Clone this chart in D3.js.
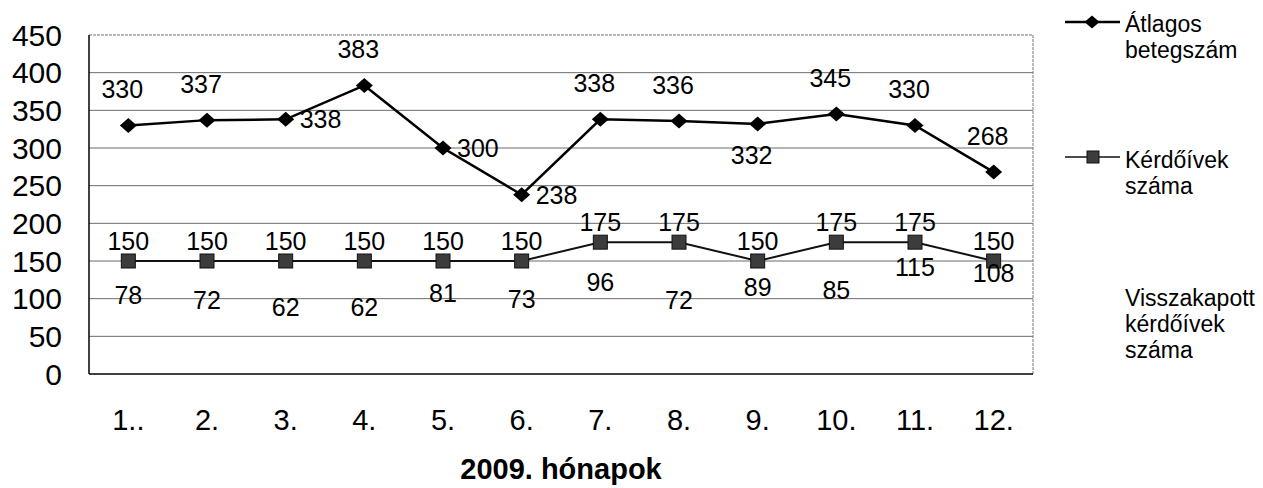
<!DOCTYPE html>
<html lang="hu">
<head>
<meta charset="UTF-8">
<title>2009. hónapok</title>
<script src="https://d3js.org/d3.v7.min.js"></script>
<style>
  html, body { margin: 0; padding: 0; background: #fff; }
  svg { display: block; font-family: "Liberation Sans", Arial, sans-serif; }
  .grid line { stroke: #6b6b6b; stroke-width: 1; }
  .ytick { font-size: 30px; fill: #000; }
  .xtick { font-size: 29px; fill: #000; }
  .lbl { font-size: 25px; fill: #000; }
  .leg { font-size: 23px; fill: #000; }
</style>
</head>
<body>
<svg id="chart" width="1263" height="488"></svg>
<script>
// data
const months = ["1..", "2.", "3.", "4.", "5.", "6.", "7.", "8.", "9.", "10.", "11.", "12."];
const atlagosBetegszam = [330, 337, 338, 383, 300, 238, 338, 336, 332, 345, 330, 268];
const kerdoivekSzama = [150, 150, 150, 150, 150, 150, 175, 175, 150, 175, 175, 150];
const visszakapott = [78, 72, 62, 62, 81, 73, 96, 72, 89, 85, 115, 108];
const yTicks = [0, 50, 100, 150, 200, 250, 300, 350, 400, 450];

// where excel put the labels of the first series
const betegLabelPlace = ["above", "above", "right", "above", "right", "right",
                         "above", "above", "below", "above", "above", "above"];

const svg = d3.select("#chart");
const plot = { left: 89, right: 1033, top: 35, bottom: 374 };

const x = d3.scalePoint()
    .domain(months)
    .range([plot.left, plot.right])
    .padding(0.5);

const y = d3.scaleLinear()
    .domain([0, 450])
    .range([plot.bottom, plot.top]);

// gridlines
svg.append("g").attr("class", "grid")
  .selectAll("line")
  .data(yTicks.filter(d => d > 0 && d < 450))
  .join("line")
    .attr("x1", plot.left).attr("x2", plot.right)
    .attr("y1", d => y(d)).attr("y2", d => y(d));

// frame: top and right are grey, axes black
svg.append("line")
    .attr("x1", plot.left).attr("x2", plot.right)
    .attr("y1", plot.top).attr("y2", plot.top)
    .attr("stroke", "#777").attr("stroke-dasharray", "3,1");
svg.append("line")
    .attr("x1", plot.right).attr("x2", plot.right)
    .attr("y1", plot.top).attr("y2", plot.bottom)
    .attr("stroke", "#777").attr("stroke-dasharray", "3,1");
svg.append("line")
    .attr("x1", plot.left).attr("x2", plot.left)
    .attr("y1", plot.top).attr("y2", plot.bottom)
    .attr("stroke", "#000").attr("stroke-width", 1.5);
svg.append("line")
    .attr("x1", plot.left).attr("x2", plot.right)
    .attr("y1", plot.bottom).attr("y2", plot.bottom)
    .attr("stroke", "#000").attr("stroke-width", 1.5);

// y tick labels
svg.append("g")
  .selectAll("text")
  .data(yTicks)
  .join("text")
    .attr("class", "ytick")
    .attr("x", 62)
    .attr("y", d => y(d))
    .attr("dy", "0.36em")
    .attr("text-anchor", "end")
    .text(d => d);

// x tick labels
svg.append("g")
  .selectAll("text")
  .data(months)
  .join("text")
    .attr("class", "xtick")
    .attr("x", d => x(d))
    .attr("y", 430)
    .attr("text-anchor", "middle")
    .text(d => d);

svg.append("text")
    .attr("x", (plot.left + plot.right) / 2)
    .attr("y", 479)
    .attr("text-anchor", "middle")
    .attr("font-size", "29px")
    .attr("font-weight", "bold")
    .text("2009. hónapok");

const line = d3.line()
    .x((d, i) => x(months[i]))
    .y(d => y(d));

// Kérdőívek száma
svg.append("path")
    .datum(kerdoivekSzama)
    .attr("d", line)
    .attr("fill", "none")
    .attr("stroke", "#111")
    .attr("stroke-width", 2);

svg.append("g")
  .selectAll("rect")
  .data(kerdoivekSzama)
  .join("rect")
    .attr("x", (d, i) => x(months[i]) - 7)
    .attr("y", d => y(d) - 7)
    .attr("width", 14).attr("height", 14)
    .attr("fill", "#3c3c3c")
    .attr("stroke", "#111");

// Átlagos betegszám
svg.append("path")
    .datum(atlagosBetegszam)
    .attr("d", line)
    .attr("fill", "none")
    .attr("stroke", "#000")
    .attr("stroke-width", 2.5);

const diamond = (cx, cy, w, h) =>
    `M${cx},${cy - h / 2}L${cx + w / 2},${cy}L${cx},${cy + h / 2}L${cx - w / 2},${cy}Z`;

svg.append("g")
  .selectAll("path")
  .data(atlagosBetegszam)
  .join("path")
    .attr("d", (d, i) => diamond(x(months[i]), y(d), 17, 15))
    .attr("fill", "#000");

// data labels
svg.append("g")
  .selectAll("text")
  .data(atlagosBetegszam)
  .join("text")
    .attr("class", "lbl")
    .attr("x", (d, i) => betegLabelPlace[i] === "right" ? x(months[i]) + 14 : x(months[i]) - 6)
    .attr("y", (d, i) => {
        const p = betegLabelPlace[i];
        if (p === "right") return y(d) + 9;
        if (p === "below") return y(d) + 40;
        return y(d) - 27;
    })
    .attr("text-anchor", (d, i) => betegLabelPlace[i] === "right" ? "start" : "middle")
    .text(d => d);

svg.append("g")
  .selectAll("text")
  .data(kerdoivekSzama)
  .join("text")
    .attr("class", "lbl")
    .attr("x", (d, i) => x(months[i]))
    .attr("y", d => y(d) - 11)
    .attr("text-anchor", "middle")
    .text(d => d);

// the third series has no visible line, only labels
svg.append("g")
  .selectAll("text")
  .data(visszakapott)
  .join("text")
    .attr("class", "lbl")
    .attr("x", (d, i) => x(months[i]))
    .attr("y", d => y(d) - 11)
    .attr("text-anchor", "middle")
    .text(d => d);

// legend
const leg = svg.append("g");
leg.append("line")
    .attr("x1", 1065).attr("x2", 1120).attr("y1", 22).attr("y2", 22)
    .attr("stroke", "#000").attr("stroke-width", 2.5);
leg.append("path")
    .attr("d", diamond(1092, 22, 15, 13))
    .attr("fill", "#000");
leg.append("line")
    .attr("x1", 1065).attr("x2", 1120).attr("y1", 157).attr("y2", 157)
    .attr("stroke", "#111").attr("stroke-width", 1.5);
leg.append("rect")
    .attr("x", 1087).attr("y", 151).attr("width", 12).attr("height", 12)
    .attr("fill", "#3c3c3c").attr("stroke", "#111");

const legendTexts = [
    { lines: ["Átlagos", "betegszám"], y: 32 },
    { lines: ["Kérdőívek", "száma"], y: 168 },
    { lines: ["Visszakapott", "kérdőívek", "száma"], y: 306 }
];
legendTexts.forEach(t => {
    const txt = leg.append("text").attr("class", "leg").attr("x", 1125).attr("y", t.y);
    t.lines.forEach((s, k) => {
        txt.append("tspan").attr("x", 1125).attr("dy", k === 0 ? 0 : 26).text(s);
    });
});
</script>
</body>
</html>
